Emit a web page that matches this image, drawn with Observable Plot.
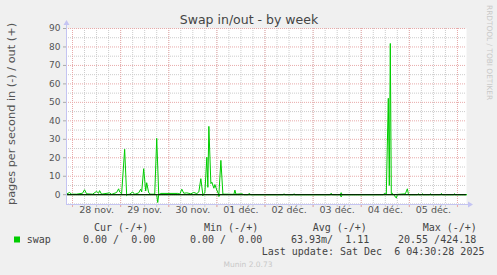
<!DOCTYPE html>
<html><head><meta charset="utf-8">
<script src="https://cdn.jsdelivr.net/npm/d3@7"></script>
<script src="https://cdn.jsdelivr.net/npm/@observablehq/plot@0.6"></script>
<style>
html,body{margin:0;padding:0;background:#f0f0f0;overflow:hidden;}
svg text{white-space:pre;}
</style></head><body><div id="chart"></div>
<script>
const title = "Swap in/out - by week";
const yLabel = "pages per second in (-) / out (+)";
const watermark = "RRDTOOL / TOBI OETIKER";
const dayLabels = ["28 nov.", "29 nov.", "30 nov.", "01 déc.", "02 déc.", "03 déc.", "04 déc.", "05 déc."];
const dayLabelTimes = ["2025-11-28 12:00","2025-11-29 12:00","2025-11-30 12:00","2025-12-01 12:00","2025-12-02 12:00","2025-12-03 12:00","2025-12-04 12:00","2025-12-05 12:00"];
const dayStarts = ["2025-11-28 00:00","2025-11-29 00:00","2025-11-30 00:00","2025-12-01 00:00","2025-12-02 00:00","2025-12-03 00:00","2025-12-04 00:00","2025-12-05 00:00","2025-12-06 00:00"];
const yMajor = [0, 10, 20, 30, 40, 50, 60, 70, 80, 90];
const yMinor = [-5, 5, 15, 25, 35, 45, 55, 65, 75, 85];
const yTickLabels = ["0", "10", "20", "30", "40", "50", "60", "70", "80", "90"];
const rangeStart = "2025-11-27 21:00";
const rangeEnd = "2025-12-06 04:30";
const yMin = -5.3, yMax = 90;

// swap out (+)
const outTimes = ["2025-11-27 21:00","2025-11-27 22:30","2025-11-27 23:30","2025-11-28 02:00","2025-11-28 05:00","2025-11-28 06:00","2025-11-28 07:00","2025-11-28 10:00","2025-11-28 12:00","2025-11-28 13:00","2025-11-28 13:30","2025-11-28 14:30","2025-11-28 18:30","2025-11-28 19:30","2025-11-28 22:00","2025-11-28 23:00","2025-11-28 23:30","2025-11-29 00:30","2025-11-29 02:00","2025-11-29 03:00","2025-11-29 04:30","2025-11-29 06:00","2025-11-29 07:00","2025-11-29 09:00","2025-11-29 10:00","2025-11-29 10:30","2025-11-29 11:30","2025-11-29 12:30","2025-11-29 13:00","2025-11-29 14:00","2025-11-29 15:00","2025-11-29 17:00","2025-11-29 18:00","2025-11-29 19:00","2025-11-29 20:00","2025-11-30 04:30","2025-11-30 05:30","2025-11-30 06:30","2025-11-30 07:30","2025-11-30 09:00","2025-11-30 11:00","2025-11-30 12:30","2025-11-30 14:00","2025-11-30 15:00","2025-11-30 16:00","2025-11-30 17:00","2025-11-30 18:00","2025-11-30 19:00","2025-11-30 19:30","2025-11-30 20:00","2025-11-30 21:00","2025-11-30 21:30","2025-11-30 22:30","2025-11-30 23:00","2025-12-01 00:00","2025-12-01 01:00","2025-12-01 02:00","2025-12-01 03:00","2025-12-01 05:00","2025-12-01 08:30","2025-12-01 09:00","2025-12-01 09:30","2025-12-01 12:30","2025-12-01 13:30","2025-12-01 15:30","2025-12-01 16:00","2025-12-01 17:00","2025-12-02 09:00","2025-12-02 09:30","2025-12-02 10:00","2025-12-02 14:00","2025-12-02 14:30","2025-12-02 15:00","2025-12-03 08:30","2025-12-03 09:00","2025-12-03 09:30","2025-12-03 13:30","2025-12-03 14:00","2025-12-03 14:30","2025-12-04 11:00","2025-12-04 11:30","2025-12-04 12:30","2025-12-04 13:30","2025-12-04 14:00","2025-12-04 14:30","2025-12-04 15:00","2025-12-04 15:30","2025-12-04 16:00","2025-12-04 22:00","2025-12-04 23:00","2025-12-04 23:30","2025-12-05 00:00","2025-12-05 04:00","2025-12-05 04:30","2025-12-05 05:00","2025-12-05 06:00","2025-12-05 06:30","2025-12-05 07:00","2025-12-05 10:00","2025-12-05 10:30","2025-12-05 11:00","2025-12-05 15:30","2025-12-05 16:00","2025-12-05 16:30","2025-12-05 22:00","2025-12-05 22:30","2025-12-05 23:00","2025-12-06 04:30"];
const outValues = [0.3,1.2,0.3,0.3,0.8,2.7,0.5,0.3,1.8,0.8,2.2,0.3,1.0,0.2,1.2,3.2,1.5,0.5,24.6,0,0.3,1.5,0.2,1.0,3.0,1.5,14.1,2.0,6.5,1.0,0.3,0.3,30.5,0,0.7,0.7,0.3,3.0,0.8,1.0,0.5,1.2,0.6,1.5,8.7,0,1.0,20.3,4.0,37,6.0,6.8,3.5,5.5,2.4,0,18.6,0.3,0.3,0.2,2.5,0.3,0.5,0,0,0.7,0,0,0.5,0,0,0.5,0,0,0.8,0,0,1.1,0,0,0.7,0.3,52.2,5.0,81.9,0.5,0.8,0,0.5,3.2,0.5,0,0,0.5,0,0,0.5,0,0,0.5,0,0,0.7,0,0,0.5,0,0];

// swap in (-)
const inTimes = ["2025-11-27 21:00","2025-11-29 02:30","2025-11-29 03:00","2025-11-29 03:30","2025-11-29 18:00","2025-11-29 18:30","2025-11-29 19:00","2025-11-30 16:30","2025-11-30 17:00","2025-11-30 17:30","2025-12-01 00:30","2025-12-01 01:00","2025-12-01 01:30","2025-12-03 13:30","2025-12-03 14:00","2025-12-03 14:30","2025-12-04 16:30","2025-12-04 17:00","2025-12-04 17:30","2025-12-04 18:00","2025-12-06 04:30"];
const inValues = [0,0,-0.5,0,0,-4.2,0,0,-0.6,0,0,-1.0,0,0,-1.2,0,0,-1.3,-1.8,0,0];

const seriesName = "swap";
const legendHeaders = ["Cur (-/+)", "Min (-/+)", "Avg (-/+)", "Max (-/+)"];
const legendValues = ["0.00 /  0.00", "0.00 /  0.00", "63.93m/  1.11", "20.55 /424.18"];
const lastUpdate = "Last update: Sat Dec  6 04:30:28 2025";
const footer = "Munin 2.0.73";

const green = "#00cc00";
const majorGrid = "#e8aaaa";
const minorGrid = "#cccccc";
const axisColor = "#c4c4f2";

const parse = d3.utcParse("%Y-%m-%d %H:%M");
const start = parse(rangeStart), end = parse(rangeEnd);
const outData = outTimes.map((t, i) => ({t: parse(t), v: outValues[i]}));
const inData = inTimes.map((t, i) => ({t: parse(t), v: inValues[i]}));
const days = dayStarts.map(parse);
const sixHours = d3.utcHour.every(6).range(start, end);

const plot = Plot.plot({
  width: 497, height: 275,
  marginLeft: 66, marginRight: 31, marginTop: 28, marginBottom: 71,
  style: {background: "#f0f0f0", fontFamily: "DejaVu Sans", overflow: "visible"},
  x: {type: "utc", domain: [start, end], axis: null},
  y: {domain: [yMin, yMax], axis: null},
  marks: [
    Plot.frame({fill: "white", stroke: null}),
    Plot.ruleY(yMinor, {stroke: minorGrid, strokeDasharray: "1,1"}),
    Plot.ruleX(sixHours, {stroke: minorGrid, strokeDasharray: "1,1"}),
    Plot.ruleY(yMajor, {stroke: majorGrid, strokeDasharray: "1,1"}),
    Plot.ruleX(days, {stroke: majorGrid, strokeDasharray: "1,1"}),
    Plot.axisX({ticks: sixHours, tickSize: 3, tickFormat: () => "", stroke: minorGrid, label: null}),
    Plot.axisX({ticks: days, tickSize: 3, tickFormat: () => "", stroke: majorGrid, label: null}),
    Plot.axisY({ticks: yMajor, tickSize: 3, tickPadding: 3, tickFormat: (d, i) => yTickLabels[i], fontSize: 9, fill: "#555", stroke: "#aaa", label: null}),
    Plot.text(dayLabels, {x: (d, i) => parse(dayLabelTimes[i]), frameAnchor: "bottom", dy: 8.5, fontSize: 9.5, fill: "#555"}),
    Plot.line(inData, {x: "t", y: "v", stroke: green, strokeWidth: 1}),
    Plot.line(outData, {x: "t", y: "v", stroke: green, strokeWidth: 1}),
    Plot.ruleY([0], {stroke: "#000", strokeWidth: 1}),
    Plot.ruleX([start], {stroke: axisColor}),
    Plot.ruleY([yMin], {stroke: axisColor})
  ]
});
document.getElementById("chart").appendChild(plot);

const svg = d3.select(plot);
const sx = plot.scale("x"), sy = plot.scale("y");
const x0 = sx.apply(start) + 0.5, x1 = sx.apply(end);
const yTop = sy.apply(yMax), yBot = sy.apply(yMin) + 0.5;
// axis arrow extensions
svg.append("line").attr("x1", x0).attr("x2", x0).attr("y1", yTop).attr("y2", yTop - 4).attr("stroke", axisColor);
svg.append("path").attr("d", `M${x0 - 3},${yTop - 3}L${x0 + 3},${yTop - 3}L${x0},${yTop - 8}Z`).attr("fill", axisColor);
svg.append("line").attr("x1", x1).attr("x2", x1 + 3).attr("y1", yBot).attr("y2", yBot).attr("stroke", axisColor);
svg.append("path").attr("d", `M${x1 + 2},${yBot - 3}L${x1 + 2},${yBot + 3}L${x1 + 7},${yBot}Z`).attr("fill", axisColor);

const sans = "DejaVu Sans", mono = "DejaVu Sans Mono";
const addText = (s, x, y, size, fam, fill, anchor) => svg.append("text").text(s)
  .attr("x", x).attr("y", y).attr("font-size", size).attr("font-family", fam)
  .attr("fill", fill).attr("text-anchor", anchor || "start");

addText(title, 249, 24, 12.5, sans, "#444", "middle");
svg.append("text").text(yLabel).attr("transform", "translate(14.5,114) rotate(-90)").attr("text-anchor", "middle")
  .attr("font-family", sans).attr("font-size", 11.3).attr("fill", "#555");
svg.append("text").text(watermark).attr("transform", "translate(487,5) rotate(90)").attr("text-anchor", "start")
  .attr("font-family", sans).attr("font-size", 7.4).attr("fill", "#c8c8c8");

const headerX = [94, 204, 312.7, 422.7];
const valueX = [83, 190, 291, 398];
legendHeaders.forEach((h, i) => addText(h, headerX[i], 231, 10, mono, "#444"));
svg.append("rect").attr("x", 14).attr("y", 236.5).attr("width", 6).attr("height", 6).attr("fill", green);
addText(seriesName, 26.7, 243, 10, mono, "#444");
legendValues.forEach((v, i) => addText(v, valueX[i], 243, 10, mono, "#444"));
addText(lastUpdate, 261.7, 254.5, 10, mono, "#444");
addText(footer, 248, 266.5, 7.5, sans, "#c8c8c8", "middle");
</script></body></html>
